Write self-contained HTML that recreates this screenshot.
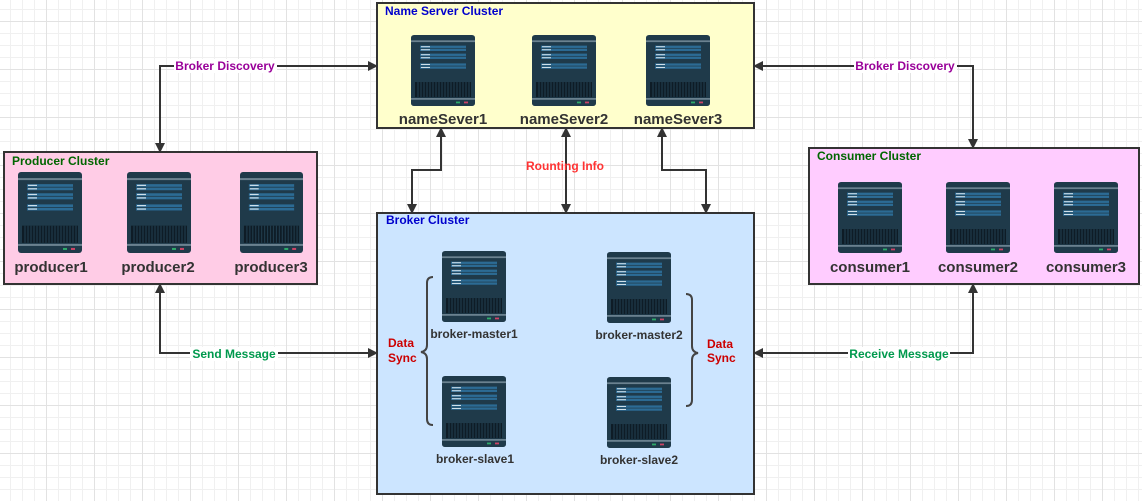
<!DOCTYPE html>
<html><head><meta charset="utf-8"><style>
body{margin:0;width:1142px;height:501px;overflow:hidden;background-color:#fff;
background-image:linear-gradient(#e2e2e2 1px,transparent 1px),linear-gradient(90deg,#e2e2e2 1px,transparent 1px),linear-gradient(#f0f0f0 1px,transparent 1px),linear-gradient(90deg,#f0f0f0 1px,transparent 1px);
background-size:48px 48px,48px 48px,12px 12px,12px 12px;background-position:-2px 21px,46px -2px,-2px 9px,10px -2px;font-family:"Liberation Sans","DejaVu Sans",sans-serif}
</style></head><body>
<svg width="1142" height="501" xmlns="http://www.w3.org/2000/svg" style="position:absolute;left:0;top:0">
<defs>
<symbol id="srv" viewBox="0 0 64 80" preserveAspectRatio="none">
<rect x="0" y="0" width="64" height="80" rx="3" fill="#1f3a4a"/>
<rect x="0" y="6" width="64" height="2" fill="#6b8290"/>
<rect x="9" y="12" width="46" height="2.6" fill="#2c6b94"/><rect x="9" y="15.4" width="46" height="2.6" fill="#2c6b94"/>
<rect x="9" y="21" width="46" height="2.6" fill="#2c6b94"/><rect x="9" y="24.4" width="46" height="2.6" fill="#2c6b94"/>
<rect x="9" y="32" width="46" height="2.6" fill="#2c6b94"/><rect x="9" y="35.4" width="46" height="2.6" fill="#2c6b94"/>
<rect x="10" y="12.6" width="9" height="1.2" fill="#cfe0ea"/><rect x="10" y="16" width="9" height="1.2" fill="#cfe0ea"/>
<rect x="10" y="21.6" width="9" height="1.2" fill="#cfe0ea"/><rect x="10" y="25" width="9" height="1.2" fill="#cfe0ea"/>
<rect x="10" y="32.6" width="9" height="1.2" fill="#cfe0ea"/><rect x="10" y="36" width="9" height="1.2" fill="#cfe0ea"/>
<rect x="4" y="53" width="56" height="17" fill="#0e1c26"/>
<path d="M7 53V70M10 53V70M13 53V70M16 53V70M19 53V70M22 53V70M25 53V70M28 53V70M31 53V70M34 53V70M37 53V70M40 53V70M43 53V70M46 53V70M49 53V70M52 53V70M55 53V70M58 53V70" stroke="#1f3a4a" stroke-width="1.2"/>
<rect x="0" y="71" width="64" height="2" fill="#6b8290"/>
<rect x="45" y="75" width="4" height="2" fill="#2eaa6a"/><rect x="53" y="75" width="4" height="2" fill="#cc4466"/>
</symbol>
<marker id="a" viewBox="0 0 10 10" refX="9" refY="5" markerWidth="10" markerHeight="10" orient="auto-start-reverse" markerUnits="userSpaceOnUse"><path d="M0 0L10 5L0 10z" fill="#333"/></marker>
</defs>
<g stroke="#333" stroke-width="2" fill="none">
<rect x="377" y="3" width="377" height="125" fill="#ffffcc"/>
<rect x="4" y="152" width="313" height="132" fill="#ffcce6"/>
<rect x="809" y="148" width="330" height="136" fill="#ffccff"/>
<rect x="377" y="213" width="377" height="281" fill="#cce5ff"/>
</g>
<g stroke="#333" stroke-width="2" fill="none" marker-start="url(#a)" marker-end="url(#a)">
<path d="M160 152V66H377"/>
<path d="M754 66H973V148"/>
<path d="M441 128V170H412V213"/>
<path d="M566 128V213"/>
<path d="M662 128V170H706V213"/>
<path d="M160 284V353H377"/>
<path d="M754 353H973V284"/>
</g>
<g stroke="#444" stroke-width="2" fill="none">
<path d="M433 277Q427 277 427 283V345Q427 351 421 352Q427 353 427 359V419Q427 425 433 425"/>
<path d="M686 294Q692 294 692 300V346Q692 352 698 353Q692 354 692 360V400Q692 406 686 406"/>
</g>
<use href="#srv" x="411" y="35" width="64" height="71"/>
<use href="#srv" x="532" y="35" width="64" height="71"/>
<use href="#srv" x="646" y="35" width="64" height="71"/>
<use href="#srv" x="18" y="172" width="64" height="81"/>
<use href="#srv" x="127" y="172" width="64" height="81"/>
<use href="#srv" x="240" y="172" width="63" height="81"/>
<use href="#srv" x="838" y="182" width="64" height="71"/>
<use href="#srv" x="946" y="182" width="64" height="71"/>
<use href="#srv" x="1054" y="182" width="64" height="71"/>
<use href="#srv" x="442" y="251" width="64" height="71"/>
<use href="#srv" x="607" y="252" width="64" height="71"/>
<use href="#srv" x="442" y="376" width="64" height="71"/>
<use href="#srv" x="607" y="377" width="64" height="71"/>
<g font-family="Liberation Sans, sans-serif" font-weight="bold">
<text x="385" y="15" font-size="12" fill="#0000cc">Name Server Cluster</text>
<text x="12" y="165" font-size="12" fill="#006600">Producer Cluster</text>
<text x="817" y="160" font-size="12" fill="#006600">Consumer Cluster</text>
<text x="386" y="224" font-size="12" fill="#0000cc">Broker Cluster</text>
<g font-size="15" fill="#333" text-anchor="middle">
<text x="443" y="124">nameSever1</text><text x="564" y="124">nameSever2</text><text x="678" y="124">nameSever3</text>
<text x="51" y="272">producer1</text><text x="158" y="272">producer2</text><text x="271" y="272">producer3</text>
<text x="870" y="272">consumer1</text><text x="978" y="272">consumer2</text><text x="1086" y="272">consumer3</text>
</g>
<g font-size="12" fill="#333" text-anchor="middle">
<text x="474" y="338">broker-master1</text><text x="639" y="339">broker-master2</text>
<text x="475" y="463">broker-slave1</text><text x="639" y="464">broker-slave2</text>
</g>
<g font-size="12" fill="#cc0000">
<text x="388" y="347">Data</text><text x="388" y="362">Sync</text>
<text x="707" y="348">Data</text><text x="707" y="362">Sync</text>
</g>
<rect x="174" y="59" width="103" height="14" fill="#fff"/>
<text x="225" y="70" font-size="12" fill="#990099" text-anchor="middle">Broker Discovery</text>
<rect x="854" y="59" width="103" height="14" fill="#fff"/>
<text x="905" y="70" font-size="12" fill="#990099" text-anchor="middle">Broker Discovery</text>
<text x="565" y="170" font-size="12" fill="#ff3333" text-anchor="middle">Rounting Info</text>
<rect x="190" y="347" width="88" height="14" fill="#fff"/>
<text x="234" y="358" font-size="12" fill="#00994d" text-anchor="middle">Send Message</text>
<rect x="848" y="347" width="102" height="14" fill="#fff"/>
<text x="899" y="358" font-size="12" fill="#00994d" text-anchor="middle">Receive Message</text>
</g>
</svg>
</body></html>
